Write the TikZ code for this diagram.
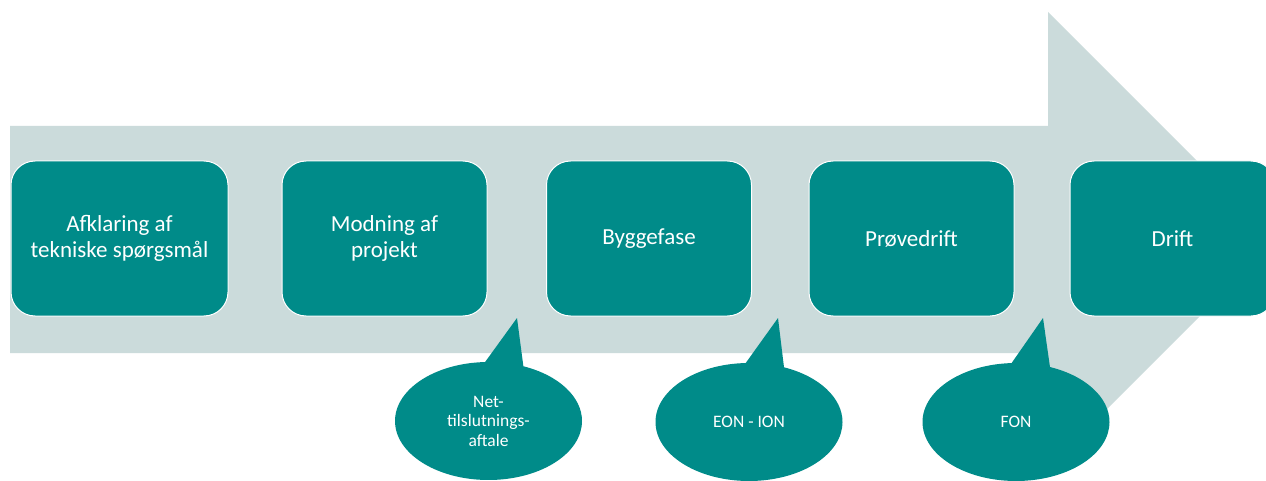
\documentclass[tikz,border=0pt]{standalone}
\usepackage{fontspec}
\setmainfont{Carlito}
\usepackage{tikz}
\usetikzlibrary{shapes.callouts}
\usepackage{xcolor}
\definecolor{color0}{HTML}{008B89}
\definecolor{color1}{HTML}{CBDBDB}

\begin{document}
\begin{tikzpicture}[x=1pt, y=1pt,
  phase/.style={fill=color0, draw=white, line width=1pt, rounded corners=24pt,
    minimum width=205pt, minimum height=155pt, text=white, align=center,
    font=\fontsize{23}{25.5}\selectfont},
  bubble/.style={ellipse callout, fill=color0, text=white, align=center,
    minimum width=187pt, minimum height=118pt, inner sep=0pt,
    callout pointer arc=24, font=\fontsize{17.5}{19.5}\selectfont}]
  \useasboundingbox (0, 0) rectangle (1266, 480);
  \clip (0, 0) rectangle (1266, 480);
  \fill[color1] (10, 127) -- (10, 354) -- (1048, 354) -- (1048, 468) -- (1276, 240) -- (1048, 12) -- (1048, 127) -- cycle;

  \node[phase, minimum width=217pt] (afklaring) at (119.5, 241.5) {Afklaring af\\tekniske spørgsmål};
  \node[phase] (modning) at (384.5, 241.5) {Modning af\\projekt};
  \node[phase] (byggefase) at (649, 241.5) {Byggefase};
  \node[phase] (proevedrift) at (911.5, 241.5) {Prøvedrift};
  \node[phase] (drift) at (1172.5, 241.5) {Drift};

  \coordinate (tip1) at (517, 162);
  \coordinate (tip2) at (778, 162);
  \coordinate (tip3) at (1043, 162);
  \node[bubble, callout absolute pointer={(tip1)}] (aftale) at (488.5, 59) {Net-\\tilslutnings-\\aftale};
  \node[bubble, callout absolute pointer={(tip2)}] (eon) at (749, 58) {EON - ION};
  \node[bubble, callout absolute pointer={(tip3)}] (fon) at (1016, 58) {FON};
\end{tikzpicture}
\end{document}
